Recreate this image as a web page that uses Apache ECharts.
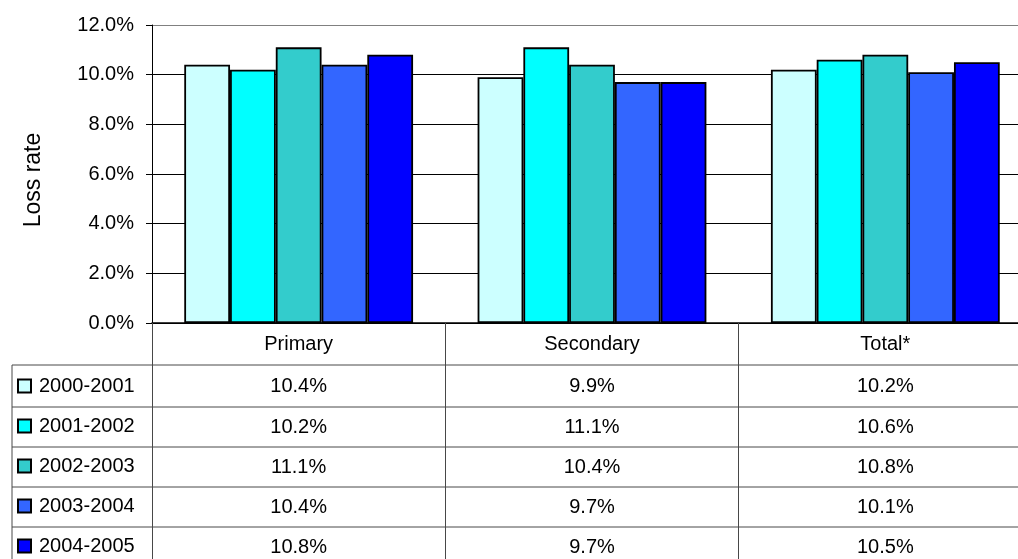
<!DOCTYPE html>
<html>
<head>
<meta charset="utf-8">
<script src="https://cdn.jsdelivr.net/npm/echarts@6/dist/echarts.min.js"></script>
<style>
  html, body { margin: 0; padding: 0; overflow: hidden; background: #fff; }
  #c { width: 1040px; height: 559px; }
</style>
</head>
<body>
<div id="c"></div>
<script>
// Loss rate by school level, per school year (percent)
const categories = ['Primary', 'Secondary', 'Total*'];
const years = ['2000-2001', '2001-2002', '2002-2003', '2003-2004', '2004-2005'];
const y2000 = [10.4, 9.9, 10.2];
const y2001 = [10.2, 11.1, 10.6];
const y2002 = [11.1, 10.4, 10.8];
const y2003 = [10.4, 9.7, 10.1];
const y2004 = [10.8, 9.7, 10.5];
const seriesValues = [y2000, y2001, y2002, y2003, y2004];
const colors = ['#CCFFFF', '#00FFFF', '#33CCCC', '#3366FF', '#0000FF'];
const yMin = 0, yMax = 12, yStep = 2;

const FONT = "'Liberation Sans', Arial, sans-serif";
const pct = v => v.toFixed(1) + '%';

const chart = echarts.init(document.getElementById('c'), null, { renderer: 'canvas' });

// plot box
const G = { left: 152, top: 25, width: 880, height: 298 };
// data table rows under the plot
const headerBottom = 365;
const rowLines = [407, 447, 487, 527];
const rowCenters = [386, 427, 467, 507, 547];
const tableLeft = 12, tableRight = 1032, tableBottom = 559;
const lineColor = '#484848';

chart.setOption({
  animation: false,
  backgroundColor: '#fff',
  textStyle: { fontFamily: FONT },
  grid: { left: G.left, top: G.top, width: G.width, height: G.height, containLabel: false },
  legend: {
    orient: 'vertical',
    left: 17,
    top: rowCenters[0] - 10,
    padding: 0,
    itemWidth: 13,
    itemHeight: 13,
    itemGap: 20,
    selectedMode: false,
    textStyle: { fontFamily: FONT, fontSize: 20, lineHeight: 20, color: '#000', padding: [0, 0, 0, 3] },
    data: years.map(y => ({ name: y, icon: 'rect' }))
  },
  xAxis: {
    type: 'category',
    data: categories,
    boundaryGap: true,
    axisLine: { show: true, lineStyle: { color: '#000', width: 1.5 } },
    axisTick: { show: true, length: tableBottom - (G.top + G.height), lineStyle: { color: lineColor, width: 1 } },
    axisLabel: { fontFamily: FONT, fontSize: 20, lineHeight: 20, color: '#000', margin: 11 },
    splitLine: { show: false }
  },
  yAxis: {
    type: 'value',
    min: yMin, max: yMax, interval: yStep,
    name: 'Loss rate',
    nameLocation: 'middle',
    nameGap: 107,
    nameTextStyle: { fontFamily: FONT, fontSize: 23, color: '#000', padding: [0, 0, 0, -12] },
    axisLine: { show: true, lineStyle: { color: '#000', width: 1 } },
    axisTick: { show: true, length: 6, lineStyle: { color: '#000' } },
    axisLabel: { fontFamily: FONT, fontSize: 20, color: '#000', margin: 18, formatter: pct },
    splitLine: { show: true, lineStyle: { color: ['#000', '#000', '#000', '#000', '#000', '#000', '#808080'], width: 1 } }
  },
  series: years.map((y, i) => ({
    name: y,
    type: 'bar',
    data: seriesValues[i],
    barGap: '0%',
    barCategoryGap: '22%',
    itemStyle: { color: colors[i], borderColor: '#000', borderWidth: 1.8 },
    emphasis: { disabled: true }
  }))
});

// data table: grid lines and the value cells, positioned on the category axis
const graphics = [];
[headerBottom].concat(rowLines).forEach(y => {
  graphics.push({
    type: 'line', silent: true,
    shape: { x1: tableLeft, y1: y, x2: tableRight, y2: y },
    style: { stroke: lineColor, lineWidth: 1 }
  });
});
graphics.push({
  type: 'line', silent: true,
  shape: { x1: tableLeft, y1: headerBottom, x2: tableLeft, y2: tableBottom },
  style: { stroke: lineColor, lineWidth: 1 }
});
seriesValues.forEach((vals, r) => {
  vals.forEach((v, c) => {
    const x = chart.convertToPixel({ xAxisIndex: 0 }, c);
    graphics.push({
      type: 'text', silent: true,
      x: x, y: rowCenters[r],
      style: { text: pct(v), fontFamily: FONT, fontSize: 20, fill: '#000', align: 'center', verticalAlign: 'middle' }
    });
  });
});
chart.setOption({ graphic: graphics });
</script>
</body>
</html>
